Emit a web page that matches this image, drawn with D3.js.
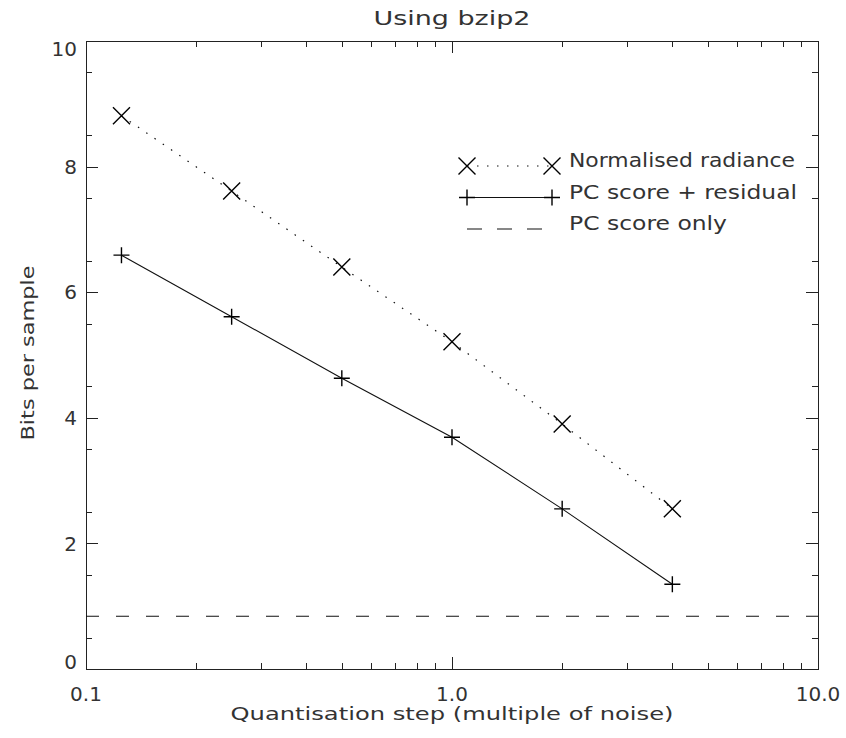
<!DOCTYPE html>
<meta charset="utf-8">
<body style="margin:0;background:#fff">
<script src="https://d3js.org/d3.v7.min.js"></script>
<style>
  text { font-family: "DejaVu Sans", sans-serif; fill: #333; }
  .axis path, .axis line { stroke: #222; shape-rendering: crispEdges; }
</style>
<script>

// quantisation step, multiple of noise
const steps = [0.125, 0.25, 0.5, 1, 2, 4];
const normRadiance = [8.81, 7.61, 6.40, 5.21, 3.90, 2.55];
const pcResidual = [6.59, 5.61, 4.63, 3.69, 2.55, 1.35];
const pcOnly = 0.84;

const xMajor = [0.1, 1, 10];
const xMinor = [0.2,0.3,0.4,0.5,0.6,0.7,0.8,0.9, 2,3,4,5,6,7,8,9];
const xLabels = ["0.1", "1.0", "10.0"];
const yMajor = [0, 2, 4, 6, 8, 10];
const yMinor = d3.range(0.5, 10, 1);

const margin = {top: 41, right: 28, bottom: 69, left: 86},
    W = 846, H = 738,
    width = W - margin.left - margin.right,
    height = H - margin.top - margin.bottom;

let x = d3.scaleLog().domain([0.1, 10]).range([0, width]);
let y = d3.scaleLinear().domain([0, 10]).range([height, 0]);

let svg = d3.select("body").append("svg")
    .attr("width", W)
    .attr("height", H)
  .append("g")
    .attr("transform", `translate(${margin.left},${margin.top})`);

// axes, ticks on all four sides pointing inward
function ax(gen, vals, size, tr) {
  svg.append("g")
      .attr("class", "axis")
      .attr("transform", tr)
      .call(gen.tickValues(vals).tickSize(-size).tickSizeOuter(0).tickFormat(""));
}
ax(d3.axisBottom(x), xMajor, 12, `translate(0,${height})`);
ax(d3.axisBottom(x), xMinor, 6, `translate(0,${height})`);
ax(d3.axisTop(x), xMajor, 12, "translate(0,0)");
ax(d3.axisTop(x), xMinor, 6, "translate(0,0)");
ax(d3.axisLeft(y), yMajor, 12, "translate(0,0)");
ax(d3.axisLeft(y), yMinor, 6, "translate(0,0)");
ax(d3.axisRight(y), yMajor, 12, `translate(${width},0)`);
ax(d3.axisRight(y), yMinor, 6, `translate(${width},0)`);
svg.selectAll(".axis text").remove();

// tick labels
svg.selectAll(".xlab")
  .data(xMajor)
  .join("text")
    .attr("class", "xlab")
    .attr("x", d => x(d))
    .attr("y", height + 32)
    .attr("text-anchor", "middle")
    .style("font-size", "20px")
    .text((d, i) => xLabels[i]);

svg.selectAll(".ylab")
  .data(yMajor)
  .join("text")
    .attr("class", "ylab")
    .attr("x", -9)
    .attr("y", d => Math.min(height - 7, Math.max(8, y(d))))
    .attr("dy", "0.36em")
    .attr("text-anchor", "end")
    .style("font-size", "20px")
    .text(d => d);

// titles
svg.append("text")
    .attr("x", width / 2)
    .attr("y", -16)
    .attr("text-anchor", "middle")
    .style("font-size", "20px")
    .attr("textLength", 157)
    .attr("lengthAdjust", "spacingAndGlyphs")
    .text("Using bzip2");

svg.append("text")
    .attr("x", width / 2)
    .attr("y", height + 51)
    .attr("text-anchor", "middle")
    .style("font-size", "17px")
    .attr("textLength", 443)
    .attr("lengthAdjust", "spacingAndGlyphs")
    .text("Quantisation step (multiple of noise)");

svg.append("text")
    .attr("transform", `translate(${-52},${height / 2 - 2}) rotate(-90)`)
    .attr("text-anchor", "middle")
    .style("font-size", "18px")
    .attr("textLength", 175)
    .attr("lengthAdjust", "spacingAndGlyphs")
    .text("Bits per sample");

// markers
const crossPath = s => `M${-s},${-s}L${s},${s}M${-s},${s}L${s},${-s}`;
const plusPath = s => `M${-s},0L${s},0M0,${-s}L0,${s}`;

const line = d3.line().x(d => x(d[0])).y(d => y(d[1]));

const plot = svg.append("g");

// PC score only
plot.append("line")
    .attr("x1", 0).attr("x2", width)
    .attr("y1", y(pcOnly)).attr("y2", y(pcOnly))
    .attr("stroke", "#111")
    .attr("stroke-width", 1.1)
    .attr("stroke-dasharray", "13,17");

// normalised radiance
const nr = steps.map((s, i) => [s, normRadiance[i]]);
plot.append("path")
    .attr("d", line(nr))
    .attr("fill", "none")
    .attr("stroke", "#111")
    .attr("stroke-width", 1.2)
    .attr("stroke-dasharray", "1.5,8.5");
plot.selectAll(".xpt")
  .data(nr)
  .join("path")
    .attr("class", "xpt")
    .attr("d", crossPath(8.5))
    .attr("transform", d => `translate(${x(d[0])},${y(d[1])})`)
    .attr("stroke", "#000")
    .attr("stroke-width", 1.4);

// PC score + residual
const pr = steps.map((s, i) => [s, pcResidual[i]]);
plot.append("path")
    .attr("d", line(pr))
    .attr("fill", "none")
    .attr("stroke", "#111")
    .attr("stroke-width", 1.1);
plot.selectAll(".ppt")
  .data(pr)
  .join("path")
    .attr("class", "ppt")
    .attr("d", plusPath(8))
    .attr("transform", d => `translate(${x(d[0])},${y(d[1])})`)
    .attr("stroke", "#000")
    .attr("stroke-width", 1.4);

// legend
const lg = svg.append("g").attr("transform", `translate(${467 - margin.left},${166 - margin.top})`);
const rowH = 31.5;

lg.append("line").attr("x1", 0).attr("x2", 85).attr("y1", 0).attr("y2", 0)
    .attr("stroke", "#111").attr("stroke-width", 1.2).attr("stroke-dasharray", "1.5,8.5");
lg.selectAll(".lx").data([0, 85]).join("path")
    .attr("class", "lx")
    .attr("d", crossPath(8.5))
    .attr("transform", d => `translate(${d},0)`)
    .attr("stroke", "#000").attr("stroke-width", 1.4);

lg.append("line").attr("x1", 0).attr("x2", 85).attr("y1", rowH).attr("y2", rowH)
    .attr("stroke", "#111").attr("stroke-width", 1.1);
lg.selectAll(".lp").data([0, 85]).join("path")
    .attr("class", "lp")
    .attr("d", plusPath(8))
    .attr("transform", d => `translate(${d},${rowH})`)
    .attr("stroke", "#000").attr("stroke-width", 1.4);

lg.append("line").attr("x1", 0).attr("x2", 76).attr("y1", rowH * 2).attr("y2", rowH * 2)
    .attr("stroke", "#111").attr("stroke-width", 1.1).attr("stroke-dasharray", "15,15");

lg.selectAll(".lt")
  .data(["Normalised radiance", "PC score + residual", "PC score only"])
  .join("text")
    .attr("class", "lt")
    .attr("x", 102)
    .attr("y", (d, i) => i * rowH + 1)
    .style("font-size", "19px")
    .attr("textLength", (d, i) => [226, 228, 158][i])
    .attr("lengthAdjust", "spacingAndGlyphs")
    .text(d => d);

</script>
